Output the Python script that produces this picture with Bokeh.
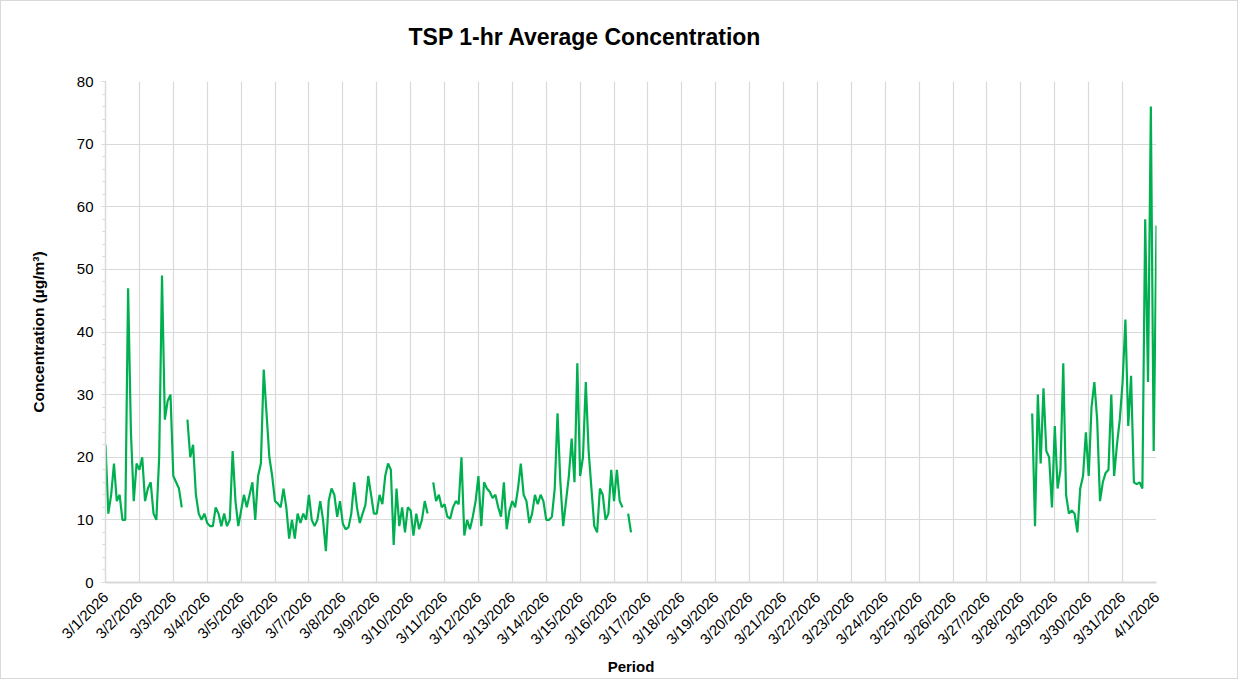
import math
import pandas as pd
from bokeh.plotting import figure
from bokeh.models import ColumnDataSource, FixedTicker, SingleIntervalTicker, Range1d
from bokeh.embed import file_html
from bokeh.resources import INLINE

nan = float("nan")

# TSP 1-hr average concentration (µg/m³), every 2 hours
part1_start = "2026-03-01 00:00"
part1_tsp = [
    22, 11, 14, 19, 13, 14, 10, 10, 47, 24, 13, 19,          # 3/1
    18, 20, 13, 15, 16, 11, 10, 20, 49, 26, 29, 30,          # 3/2
    17, 16, 15, 12, nan, 26, 20, 22, 14, 11, 10, 11,         # 3/3
    9.5, 9, 9, 12, 11, 9, 11, 9, 10, 21, 13, 9,              # 3/4
    11.5, 14, 12, 14, 16, 10, 17, 19, 34, 27, 20, 17,        # 3/5
    13, 12.6, 12, 15, 12, 7, 10, 7, 11, 9.5, 11, 10,         # 3/6
    14, 10, 9, 10, 13, 10, 5, 13, 15, 14, 10.5, 13,          # 3/7
    9.4, 8.5, 8.8, 11, 16, 12, 9.5, 11, 12.4, 17, 14, 11,    # 3/8
    11, 14, 12.5, 17, 19, 18, 6, 15, 9, 12, 8, 12,           # 3/9
    11.5, 7.5, 11, 8.5, 10, 13, 11, nan, 16, 13, 14, 12,     # 3/10
    12.5, 10.5, 10.2, 12, 13, 12.5, 20, 7.5, 10, 8.5, 10.5, 13,  # 3/11
    17, 9, 16, 15, 14.5, 13.5, 14, 12, 10.5, 16, 8.5, 11.5,  # 3/12
    13, 12, 15, 19, 14, 13, 9.5, 11, 14, 12.5, 14, 13,       # 3/13
    10, 10, 10.5, 15, 27, 16, 9, 13, 17, 23, 16, 35,         # 3/14
    17, 20, 32, 21, 15, 9, 8, 15, 14, 10, 11, 18,            # 3/15
    13, 18, 13, 12, nan, 11, 8,                              # 3/16
]
part2_start = "2026-03-28 08:00"
part2_tsp = [
    27, 9, 30, 19, 31, 21, 20, 12,                           # 3/28
    25, 15, 18, 35, 14, 11, 11.5, 11, 8, 15, 17, 24,         # 3/29
    17, 28, 32, 26, 13, 16, 17.5, 18, 30, 17, 22, 26,        # 3/30
    32, 42, 25, 33, 16, 15.7, 16, 15, 58, 32, 76, 21,        # 3/31
    57,                                                      # 4/1 00:00
]
step = "2h"
axis_start = pd.Timestamp("2026-03-01")
axis_end = pd.Timestamp("2026-04-01")
y_max = 80

t1 = pd.date_range(part1_start, periods=len(part1_tsp), freq=step)
t2 = pd.date_range(part2_start, periods=len(part2_tsp), freq=step)
times = list(t1) + [t1[-1] + pd.Timedelta(step)] + list(t2)
vals = list(part1_tsp) + [nan] + list(part2_tsp)
day = pd.Timedelta("1D")
xs = [(t - axis_start) / day for t in times]
src = ColumnDataSource(dict(x=xs, y=vals))

n_days = int((axis_end - axis_start) / day)
tick_dates = [axis_start + i * day for i in range(n_days + 1)]
tick_labels = [f"{d.month}/{d.day}/{d.year}" for d in tick_dates]

FONT = "Liberation Sans"
GRID = "#d9d9d9"

p = figure(width=1238, height=679, output_backend="svg", toolbar_location=None,
           x_range=Range1d(0, n_days), y_range=Range1d(0, y_max),
           min_border_left=104, min_border_right=83, min_border_top=80, min_border_bottom=98)
p.styles = {"border": "1px solid #d9d9d9"}
p.outline_line_color = None
p.background_fill_color = "white"
p.border_fill_color = "white"

p.line("x", "y", source=src, line_color="#00b050", line_width=2.2)

# trailing empty line lifts the title away from the plotting frame
p.title.text = "TSP 1-hr Average Concentration\n"
p.title.text_font = FONT
p.title.text_font_size = "23px"
p.title.text_font_style = "bold"
p.title.text_color = "black"
p.title.text_line_height = 1.0
p.title.align = "left"
p.title.offset = 303
p.title.standoff = 12

xa = p.xaxis[0]
xa.ticker = FixedTicker(ticks=list(range(n_days + 1)))
xa.major_label_overrides = {i: lab for i, lab in enumerate(tick_labels)}
xa.major_label_orientation = math.pi / 4
xa.major_label_text_font = FONT
xa.major_label_text_font_size = "15px"
xa.major_label_text_color = "black"
xa.major_tick_out = 0
xa.major_tick_in = 0
xa.minor_tick_out = 0
xa.minor_tick_in = 0
xa.axis_line_color = GRID
xa.axis_line_width = 2
xa.axis_label = "Period"
xa.axis_label_text_font = FONT
xa.axis_label_text_font_size = "15px"
xa.axis_label_text_font_style = "bold"
xa.axis_label_text_color = "black"
xa.axis_label_standoff = 1
xa.major_label_standoff = 12

ya = p.yaxis[0]
ya.ticker = SingleIntervalTicker(interval=10, num_minor_ticks=5)
ya.major_label_text_font = FONT
ya.major_label_text_font_size = "15px"
ya.major_label_text_color = "black"
ya.major_tick_out = 4
ya.major_tick_in = 0
ya.minor_tick_out = 3
ya.minor_tick_in = 0
ya.major_tick_line_color = GRID
ya.minor_tick_line_color = GRID
ya.axis_line_color = GRID
ya.axis_line_width = 1.5
ya.major_label_standoff = 8
ya.axis_label = "Concentration (µg/m³)"
ya.axis_label_text_font = FONT
ya.axis_label_text_font_size = "15.5px"
ya.axis_label_text_font_style = "bold"
ya.axis_label_text_color = "black"
ya.axis_label_standoff = 27

p.xgrid.grid_line_color = GRID
p.ygrid.grid_line_color = GRID
p.xgrid.grid_line_width = 1.2
p.ygrid.grid_line_width = 1.2

open("out.html", "w").write(file_html(p, INLINE))
